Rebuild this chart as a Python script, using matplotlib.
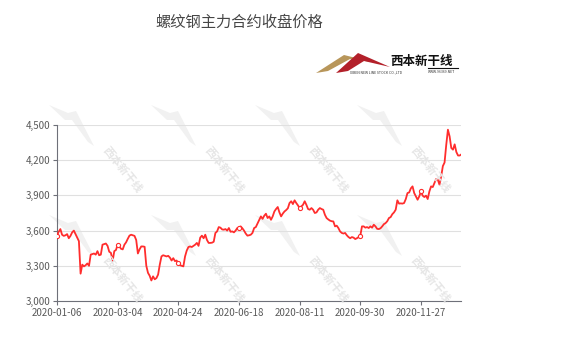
import matplotlib.pyplot as plt
import matplotlib.patches as mpatches
import numpy as np
import pandas as pd

plt.rcParams['font.family'] = ['Noto Sans CJK SC', 'DejaVu Sans']

## trading days 2020 (China, holidays removed)
holidays = ['2020-01-24', '2020-01-27', '2020-01-28', '2020-01-29', '2020-01-30',
            '2020-01-31', '2020-04-06', '2020-05-01', '2020-05-04', '2020-05-05',
            '2020-06-25', '2020-06-26', '2020-10-01', '2020-10-02', '2020-10-05',
            '2020-10-06', '2020-10-07', '2020-10-08']
days = pd.bdate_range('2020-01-06', '2020-12-31')
days = days[~days.isin(pd.to_datetime(holidays))]
dates = [d.strftime('%Y-%m-%d') for d in days]

## close prices
close = [3557, 3590, 3613, 3565, 3555, 3560, 3570, 3535, 3555, 3585,
         3600, 3570, 3540, 3510, 3233, 3310, 3295, 3305, 3320, 3300,
         3395, 3400, 3405, 3395, 3425, 3390, 3395, 3480, 3485, 3490,
         3470, 3420, 3410, 3340, 3425, 3435, 3480, 3465, 3445, 3440,
         3480, 3500, 3530, 3557, 3565, 3560, 3555, 3520, 3405, 3440,
         3465, 3465, 3462, 3300, 3240, 3215, 3175, 3210, 3185, 3195,
         3225, 3310, 3380, 3390, 3385, 3380, 3385, 3370, 3345, 3365,
         3340, 3345, 3320, 3305, 3300, 3295, 3380, 3430, 3460, 3465,
         3460, 3470, 3480, 3495, 3470, 3540, 3557, 3535, 3565, 3520,
         3495, 3495, 3497, 3505, 3580, 3593, 3630, 3625, 3610, 3608,
         3613, 3600, 3622, 3590, 3593, 3585, 3600, 3622, 3625, 3636,
         3620, 3600, 3575, 3557, 3560, 3565, 3580, 3622, 3630, 3660,
         3690, 3721, 3700, 3727, 3744, 3707, 3721, 3692, 3721, 3763,
         3784, 3801, 3755, 3721, 3745, 3763, 3775, 3790, 3835, 3850,
         3826, 3858, 3835, 3815, 3792, 3806, 3820, 3850, 3820, 3784,
         3778, 3792, 3778, 3750, 3755, 3778, 3792, 3784, 3778, 3735,
         3707, 3695, 3685, 3680, 3678, 3636, 3642, 3622, 3593, 3580,
         3575, 3580, 3560, 3545, 3535, 3545, 3540, 3528, 3535, 3545,
         3557, 3636, 3636, 3625, 3630, 3622, 3636, 3625, 3650, 3636,
         3615, 3613, 3620, 3636, 3655, 3664, 3680, 3707, 3715, 3740,
         3755, 3778, 3858, 3830, 3832, 3830, 3835, 3869, 3920, 3925,
         3960, 3977, 3920, 3892, 3863, 3892, 3934, 3898, 3886, 3898,
         3869, 3934, 3977, 3971, 4005, 4040, 4034, 3991, 4062, 4150,
         4180, 4330, 4460, 4403, 4304, 4290, 4335, 4270, 4240, 4240,
         4250]
close = close[:len(dates)]

yticks = [3000, 3300, 3600, 3900, 4200, 4500]
label_step = 36

W, H = 568, 342
fig = plt.figure(figsize=(W / 100, H / 100), dpi=100)

def fx(px):
    return px / W

def fy(py):
    return 1 - py / H

def poly(pts, color, **kw):
    fig.add_artist(mpatches.Polygon([(fx(a), fy(b)) for a, b in pts], closed=True,
                                    transform=fig.transFigure, color=color, lw=0, **kw))

ax = fig.add_axes([fx(57), fy(301), fx(461.4) - fx(57), fy(125) - fy(301)])

## watermarks (swoosh + text)
swoosh = [(-73, -65), (-54, -57), (-46, -59), (-28, -24), (-34, -28), (-50, -50), (-57, -50)]
for wx in [122, 224, 328, 430]:
    for wy in [170, 280]:
        poly([(wx + a, wy + b) for a, b in swoosh], '#f1f1f1', zorder=0)
        fig.text(fx(wx), fy(wy), '西本新干线', fontsize=8, fontweight='bold', color='#e6e6e6',
                 rotation=-51, ha='center', va='center', zorder=0)

x = np.arange(len(close))
ax.plot(x, close, color='#ff2d2d', lw=1.3, zorder=3)
mk = x[::label_step]
ax.plot(mk, np.array(close)[mk], 'o', ms=3, mfc='white', mec='#ff2d2d', mew=0.8, zorder=4)

ax.set_xlim(0, len(close) - 1)
ax.set_ylim(3000, 4500)
ax.set_yticks(yticks)
ax.set_yticklabels(['{:,}'.format(v) for v in yticks])
ax.set_xticks(mk)
ax.set_xticklabels([dates[i] for i in mk])
ax.grid(axis='y', color='#e0e0e0', lw=0.8)
ax.set_axisbelow(True)
ax.patch.set_alpha(0)
for s in ['top', 'right']:
    ax.spines[s].set_visible(False)
for s in ['left', 'bottom']:
    ax.spines[s].set_color('#6e7079')
    ax.spines[s].set_linewidth(0.8)
ax.tick_params(axis='both', colors='#6e7079', labelcolor='#5a5a5a', labelsize=7, length=3, width=0.8)
ax.tick_params(axis='y', pad=2)
ax.tick_params(axis='x', pad=2)

## title
fig.text(fx(239), fy(22), '螺纹钢主力合约收盘价格', fontsize=11, color='#464646', ha='center', va='center')

## logo
poly([(316, 73), (344, 55), (372, 62), (350, 59), (328, 71)], '#b8965a')
poly([(336, 73), (358, 53), (390, 67), (364, 61), (348, 71)], '#b3202a')
fig.text(fx(390), fy(62), '西本新干线', fontsize=9, fontweight='bold', color='#111111', ha='left', va='center')
fig.add_artist(plt.Line2D([fx(428), fx(458)], [fy(68), fy(68)], transform=fig.transFigure, color='#111111', lw=0.8))
fig.text(fx(350), fy(72), 'XIBEN NEW LINE STOCK CO.,LTD', fontsize=2.5, color='#333333', ha='left', va='center')
fig.text(fx(428), fy(72), 'WWW.96369.NET', fontsize=2.5, color='#333333', ha='left', va='center')

fig.savefig('out.png', dpi=100)
